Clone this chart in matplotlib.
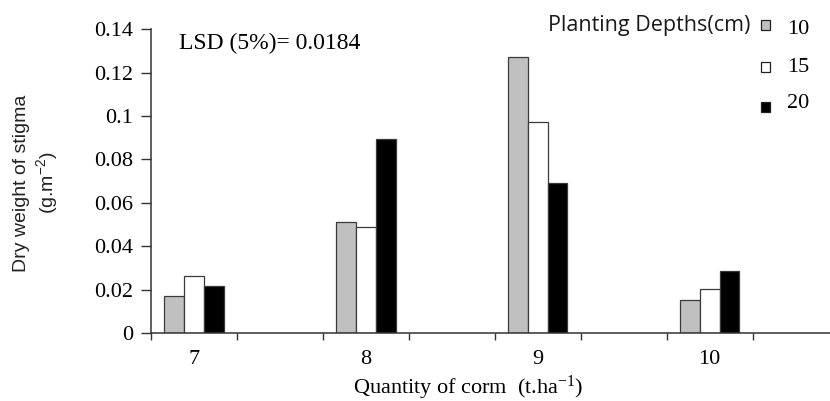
import numpy as np
import matplotlib.pyplot as plt
from matplotlib.patches import Rectangle

plt.rcParams['mathtext.default'] = 'regular'

# corm quantity (t/ha) on x, planting depth series
quantities = ['7', '8', '9', '10']
depths = ['10', '15', '20']
depth_10 = [0.0170, 0.0512, 0.1272, 0.0152]
depth_15 = [0.0263, 0.0488, 0.0974, 0.0203]
depth_20 = [0.0218, 0.0893, 0.0690, 0.0286]
series = [depth_10, depth_15, depth_20]
fills = ['#c0c0c0', '#ffffff', '#000000']

W, H = 830, 401
fig = plt.figure(figsize=(W / 100, H / 100), dpi=100)
ax = fig.add_axes([151 / W, 1 - 333 / H, 1 - 151 / W, (333 - 29.3) / H])

x = np.arange(len(quantities))
bw = 0.115
for i, (vals, fc) in enumerate(zip(series, fills)):
    ax.bar(x + (i - 1) * bw, vals, width=bw, color=fc,
           edgecolor='#3a3a3a', linewidth=0.9, zorder=2)

ax.set_xlim(-0.244, 3.70)
ax.set_ylim(0, 0.14)

ax.set_xticks(x)
ax.set_xticklabels(quantities, family='Liberation Serif', fontsize=16)
ax.set_xticks(np.arange(-0.25, 3.3, 0.5), minor=True)
ax.tick_params(axis='x', which='major', length=0, pad=12)
ax.tick_params(axis='x', which='minor', length=5, width=1, direction='out', color='#333333')

ax.set_yticks(np.arange(0, 0.141, 0.02))
ax.set_yticklabels(['0', '0.02', '0.04', '0.06', '0.08', '0.1', '0.12', '0.14'],
                   family='Liberation Serif', fontsize=16)
ax.tick_params(axis='y', length=7, width=1, direction='out', color='#333333', pad=6)

for s in ['top', 'right']:
    ax.spines[s].set_visible(False)
for s in ['left', 'bottom']:
    ax.spines[s].set_color('#333333')
    ax.spines[s].set_linewidth(1.1)

fig.text(22 / W, 1 - 183 / H, 'Dry weight of stigma', rotation=90, ha='center', va='center',
         family='Liberation Sans', fontsize=14, color='#222222')
fig.text(47 / W, 1 - 183 / H, '(g.m$^{-2}$)', rotation=90, ha='center', va='center',
         family='Liberation Sans', fontsize=14, color='#222222')

fig.text(468 / W, 1 - 374 / H, 'Quantity of corm  (t.ha$^{-1}$)', ha='center', va='top',
         family='Liberation Serif', fontsize=16)
fig.text(179 / W, 1 - 43 / H, 'LSD (5%)= 0.0184', ha='left', va='center',
         family='Liberation Serif', fontsize=17)

# legend
fig.text(750 / W, 1 - 25 / H, 'Planting Depths(cm)', ha='right', va='center',
         family='Open Sans', fontsize=15.5, color='#1a1a1a')
sq_y = [25, 67, 107]
lab_y = [30, 67, 103]
for lab, fc, sy, ly in zip(depths, fills, sq_y, lab_y):
    fig.add_artist(Rectangle((761 / W, 1 - (sy + 4.5) / H), 9 / W, 9 / H,
                             transform=fig.transFigure, facecolor=fc,
                             edgecolor='#222222', linewidth=0.9))
    fig.text(787 / W, 1 - ly / H, lab, ha='left', va='center',
             family='Liberation Serif', fontsize=16)

fig.savefig('out.png', dpi=100)
